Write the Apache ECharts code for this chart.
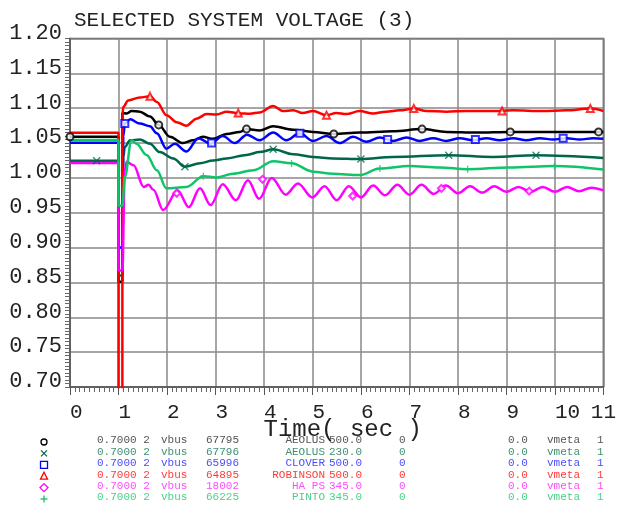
<!DOCTYPE html>
<html>
<head>
<meta charset="utf-8">
<script src="https://cdn.jsdelivr.net/npm/echarts@6/dist/echarts.min.js"></script>
<style>
  html, body {margin: 0; padding: 0; background: #fff;}
  #chart {width: 619px; height: 509px;}
</style>
</head>
<body>
<div id="chart"></div>
<script>
// time (sec), voltage (pu) pairs
const aeolus500 = [[0,1.059],[1.0,1.059],[1.0,0.851],[1.08,0.851],[1.08,1.093],[1.17,1.0925],[1.27,1.096],[1.44,1.095],
    [1.65,1.088],[1.83,1.076],[2.06,1.059],[2.33,1.050],[2.54,1.054],[2.74,1.059],[2.95,1.056],[3.23,1.063],[3.5,1.066],
    [3.64,1.070],[3.91,1.068],[4.19,1.074],[4.6,1.069],[5.01,1.066],[5.44,1.063],[5.97,1.065],[6.66,1.067],[7.26,1.070],
    [7.76,1.066],[8.38,1.065],[9.08,1.066],[9.75,1.066],[10.9,1.066],[11,1.066]];

const aeolus230 = [[0,1.0245],[1.0,1.0245],[1.0,0.86],[1.08,0.86],[1.10,1.03],[1.13,1.0445],[1.24,1.054],[1.44,1.055],
    [1.65,1.049],[1.85,1.037],[2.13,1.028],[2.37,1.016],[2.68,1.021],[2.95,1.025],[3.23,1.028],[3.64,1.033],[3.91,1.037],
    [4.19,1.041],[4.6,1.034],[5.01,1.030],[5.42,1.028],[6.0,1.027],[6.66,1.030],[7.81,1.0326],[8.72,1.030],[9.61,1.0326],
    [11,1.0287]];

const clover500 = [[0,1.0503],[1.0,1.0503],[1.0,0.90],[1.08,0.90],[1.10,1.06],[1.13,1.078],[1.24,1.084],[1.44,1.078],
    [1.65,1.074],[1.79,1.064],[1.99,1.042],[2.16,1.049],[2.4,1.038],[2.65,1.057],[2.9,1.049],[3.15,1.060],[3.4,1.050],
    [3.65,1.062],[3.91,1.054],[4.19,1.065],[4.46,1.054],[4.74,1.064],[5.01,1.053],[5.29,1.060],[5.56,1.050],[5.84,1.059],
    [6.11,1.052],[6.39,1.058],[6.66,1.053],[6.94,1.058],[7.21,1.053],[7.49,1.057],[7.76,1.053],[8.04,1.057],[8.31,1.054],
    [8.59,1.057],[8.86,1.054],[9.14,1.057],[9.41,1.054],[9.69,1.057],[9.96,1.055],[10.24,1.057],[10.51,1.055],
    [10.79,1.057],[11,1.056]];

const robinson500 = [[0,1.0647],[1.0,1.0647],[1.0,0.62],[1.08,0.62],[1.08,1.09],[1.10,1.102],[1.2,1.111],[1.44,1.1155],
    [1.65,1.117],[1.79,1.109],[1.99,1.090],[2.2,1.080],[2.4,1.075],[2.61,1.085],[2.82,1.0915],[3.02,1.091],[3.23,1.095],
    [3.5,1.0925],[3.71,1.092],[3.91,1.094],[4.19,1.103],[4.39,1.096],[4.6,1.097],[4.8,1.093],[5.01,1.096],[5.29,1.090],
    [5.49,1.093],[5.7,1.0915],[5.97,1.096],[6.25,1.0925],[6.52,1.095],[6.8,1.097],[7.09,1.0995],[7.35,1.096],[7.76,1.095],
    [8.17,1.096],[8.72,1.096],[9.13,1.097],[9.75,1.096],[10.23,1.097],[10.73,1.0995],[11,1.096]];

const haps345 = [[0,1.0215],[1.0,1.0215],[1.0,0.867],[1.08,0.867],[1.13,1.011],[1.17,1.023],[1.31,1.018],[1.52,0.987],
    [1.62,0.990],[1.72,0.983],[1.92,0.954],[2.22,0.982],[2.45,0.958],[2.68,0.985],[2.9,0.961],[3.15,0.991],[3.42,0.968],
    [3.67,0.9967],[3.9,0.970],[4.16,1.000],[4.45,0.976],[4.7,0.992],[5.0,0.972],[5.25,0.988],[5.5,0.968],[5.75,0.988],
    [6.0,0.972],[6.25,0.989],[6.5,0.975],[6.75,0.990],[7.0,0.976],[7.25,0.990],[7.5,0.977],[7.75,0.989],[8.0,0.978],
    [8.25,0.988],[8.5,0.979],[8.75,0.988],[9.0,0.980],[9.25,0.987],[9.5,0.980],[9.75,0.987],[10.0,0.980],[10.25,0.987],
    [10.5,0.981],[10.75,0.986],[11,0.982]];

const pinto345 = [[0,1.0542],[1.0,1.0542],[1.0,0.96],[1.08,0.96],[1.13,1.0014],[1.27,1.054],[1.37,1.049],[1.58,1.033],
    [1.79,1.011],[1.99,0.985],[2.4,0.987],[2.75,1.0024],[3.02,1.0006],[3.36,1.006],[3.78,1.011],[4.19,1.024],[4.57,1.021],
    [5.01,1.009],[5.42,1.006],[5.97,1.004],[6.39,1.0135],[7.0,1.017],[7.62,1.015],[8.2,1.0125],[9.06,1.015],[9.99,1.017],
    [11,1.012]];

// marker positions along each curve
const aeolus500Marks = [[0,1.059],[1.83,1.076],[3.64,1.070],[5.44,1.063],[7.26,1.070],[9.08,1.066],[10.9,1.066]];
const aeolus230Marks = [[0.55,1.0245],[2.37,1.016],[4.19,1.041],[6.0,1.027],[7.81,1.0326],[9.61,1.0326]];
const clover500Marks = [[1.13,1.078],[2.92,1.050],[4.74,1.064],[6.55,1.055],[8.36,1.055],[10.17,1.057]];
const robinson500Marks = [[1.65,1.117],[3.47,1.093],[5.29,1.090],[7.09,1.0995],[8.91,1.096],[10.73,1.0995]];
const haps345Marks = [[2.2,0.978],[3.97,0.998],[5.83,0.974],[7.66,0.985],[9.47,0.981]];
const pinto345Marks = [[2.75,1.0024],[4.57,1.0207],[6.39,1.0135],[8.2,1.0125],[9.99,1.0168]];

// legend table columns
const legendBus = ['67795', '67796', '65996', '64895', '18002', '66225'];
const legendName = ['AEOLUS', 'AEOLUS', 'CLOVER', 'ROBINSON', 'HA PS', 'PINTO'];
const legendKv = ['500.0', '230.0', '500.0', '500.0', '345.0', '345.0'];

const lineColors = ['#000000', '#00664a', '#0000ff', '#ff0000', '#ff00ff', '#10c46a'];
const textColors = ['#555555', '#3f8f74', '#4d4dff', '#ff3b3b', '#ff4dff', '#4ccf8c'];

const crossPath = 'path://M0,0L10,10M10,0L0,10';
const plusPath = 'path://M5,0L5,10M0,5L10,5';
const markSymbols = ['emptyCircle', crossPath, 'emptyRect', 'emptyTriangle', 'emptyDiamond', plusPath];

const curves = [aeolus500, aeolus230, clover500, robinson500, haps345, pinto345];
const marks = [aeolus500Marks, aeolus230Marks, clover500Marks, robinson500Marks, haps345Marks, pinto345Marks];

const FONT = '"Liberation Mono", "DejaVu Sans Mono", monospace';

let series = [];
curves.forEach(function (c, i) {
    series.push({
        type: 'line', data: c, showSymbol: false, smooth: 0.35, smoothMonotone: 'x',
        lineStyle: {color: lineColors[i], width: 2.5}, z: 2 + i, silent: true
    });
});
marks.forEach(function (m, i) {
    series.push({
        type: 'scatter', data: m, symbol: markSymbols[i], symbolSize: 7,
        itemStyle: {color: i === 1 || i === 5 ? 'transparent' : lineColors[i], borderColor: lineColors[i], borderWidth: 1.3},
        z: 10, silent: true
    });
});

// legend table drawn as text rows
let graphics = [];
const rowTop = 435;
const rowStep = 11.4;
legendBus.forEach(function (bus, i) {
    const y = rowTop + i * rowStep;
    const st = {fill: textColors[i], font: '11px ' + FONT};
    graphics.push({type: 'text', left: 97, top: y, style: Object.assign({text: '0.7000 2'}, st)});
    graphics.push({type: 'text', left: 161, top: y, style: Object.assign({text: 'vbus'}, st)});
    graphics.push({type: 'text', left: 206, top: y, style: Object.assign({text: bus}, st)});
    graphics.push({type: 'text', right: 619 - 325, top: y, style: Object.assign({text: legendName[i]}, st)});
    graphics.push({type: 'text', left: 329, top: y, style: Object.assign({text: legendKv[i]}, st)});
    graphics.push({type: 'text', left: 399, top: y, style: Object.assign({text: '0'}, st)});
    graphics.push({type: 'text', left: 508, top: y, style: Object.assign({text: '0.0'}, st)});
    graphics.push({type: 'text', left: 547, top: y, style: Object.assign({text: 'vmeta'}, st)});
    graphics.push({type: 'text', left: 597, top: y, style: Object.assign({text: '1'}, st)});
});
// legend symbols
const sx = 44;
const sy = function (i) { return rowTop + i * rowStep + 7; };
const lw = 1.3;
graphics.push({type: 'circle', shape: {cx: sx, cy: sy(0), r: 3}, style: {fill: 'none', stroke: lineColors[0], lineWidth: lw}});
graphics.push({type: 'polyline', shape: {points: [[sx - 3, sy(1) - 3], [sx + 3, sy(1) + 3]]}, style: {stroke: lineColors[1], lineWidth: lw}});
graphics.push({type: 'polyline', shape: {points: [[sx + 3, sy(1) - 3], [sx - 3, sy(1) + 3]]}, style: {stroke: lineColors[1], lineWidth: lw}});
graphics.push({type: 'rect', shape: {x: sx - 3.5, y: sy(2) - 3.5, width: 7, height: 7}, style: {fill: 'none', stroke: lineColors[2], lineWidth: lw}});
graphics.push({type: 'polygon', shape: {points: [[sx, sy(3) - 4], [sx + 3.5, sy(3) + 3], [sx - 3.5, sy(3) + 3]]}, style: {fill: 'none', stroke: lineColors[3], lineWidth: lw}});
graphics.push({type: 'polygon', shape: {points: [[sx, sy(4) - 4], [sx + 4, sy(4)], [sx, sy(4) + 4], [sx - 4, sy(4)]]}, style: {fill: 'none', stroke: lineColors[4], lineWidth: lw}});
graphics.push({type: 'polyline', shape: {points: [[sx, sy(5) - 3.5], [sx, sy(5) + 3.5]]}, style: {stroke: lineColors[5], lineWidth: lw}});
graphics.push({type: 'polyline', shape: {points: [[sx - 3.5, sy(5)], [sx + 3.5, sy(5)]]}, style: {stroke: lineColors[5], lineWidth: lw}});

const chart = echarts.init(document.getElementById('chart'), null, {renderer: 'canvas'});
chart.setOption({
    animation: false,
    backgroundColor: '#fff',
    title: {
        text: 'SELECTED SYSTEM VOLTAGE (3)', left: 69, top: 5,
        textStyle: {fontFamily: FONT, fontSize: 21, fontWeight: 'normal', color: '#222'}
    },
    grid: {left: 70, right: 15, top: 38.5, bottom: 122, show: true, borderColor: '#555', borderWidth: 1.5},
    xAxis: {
        type: 'value', min: 0, max: 11, interval: 1,
        name: 'Time( sec )', nameLocation: 'middle', nameGap: 31, nameMoveOverlap: false,
        nameTextStyle: {fontFamily: FONT, fontSize: 24, color: '#222', padding: [0, 0, 0, 12]},
        axisLine: {show: true, lineStyle: {color: '#555', width: 1.5}},
        axisTick: {show: true, length: 8, lineStyle: {color: '#555'}},
        minorTick: {show: true, splitNumber: 10, length: 5, lineStyle: {color: '#666'}},
        axisLabel: {fontFamily: FONT, fontSize: 21, color: '#222', margin: 15, align: 'left', alignMaxLabel: 'center'},
        splitLine: {show: true, lineStyle: {color: '#888', width: 1.5}}
    },
    yAxis: {
        type: 'value', min: 0.7, max: 1.2, interval: 0.05,
        axisLine: {show: true, lineStyle: {color: '#555', width: 1.5}},
        axisTick: {show: true, length: 5, lineStyle: {color: '#666'}},
        minorTick: {show: true, splitNumber: 10, length: 5, lineStyle: {color: '#666'}},
        axisLabel: {
            fontFamily: FONT, fontSize: 22, color: '#222', margin: 8, verticalAlign: 'bottom', lineHeight: 11,
            formatter: function (v) { return v.toFixed(2); }
        },
        splitLine: {show: true, lineStyle: {color: '#888', width: 1.5}}
    },
    series: series,
    graphic: graphics
});
</script>
</body>
</html>
